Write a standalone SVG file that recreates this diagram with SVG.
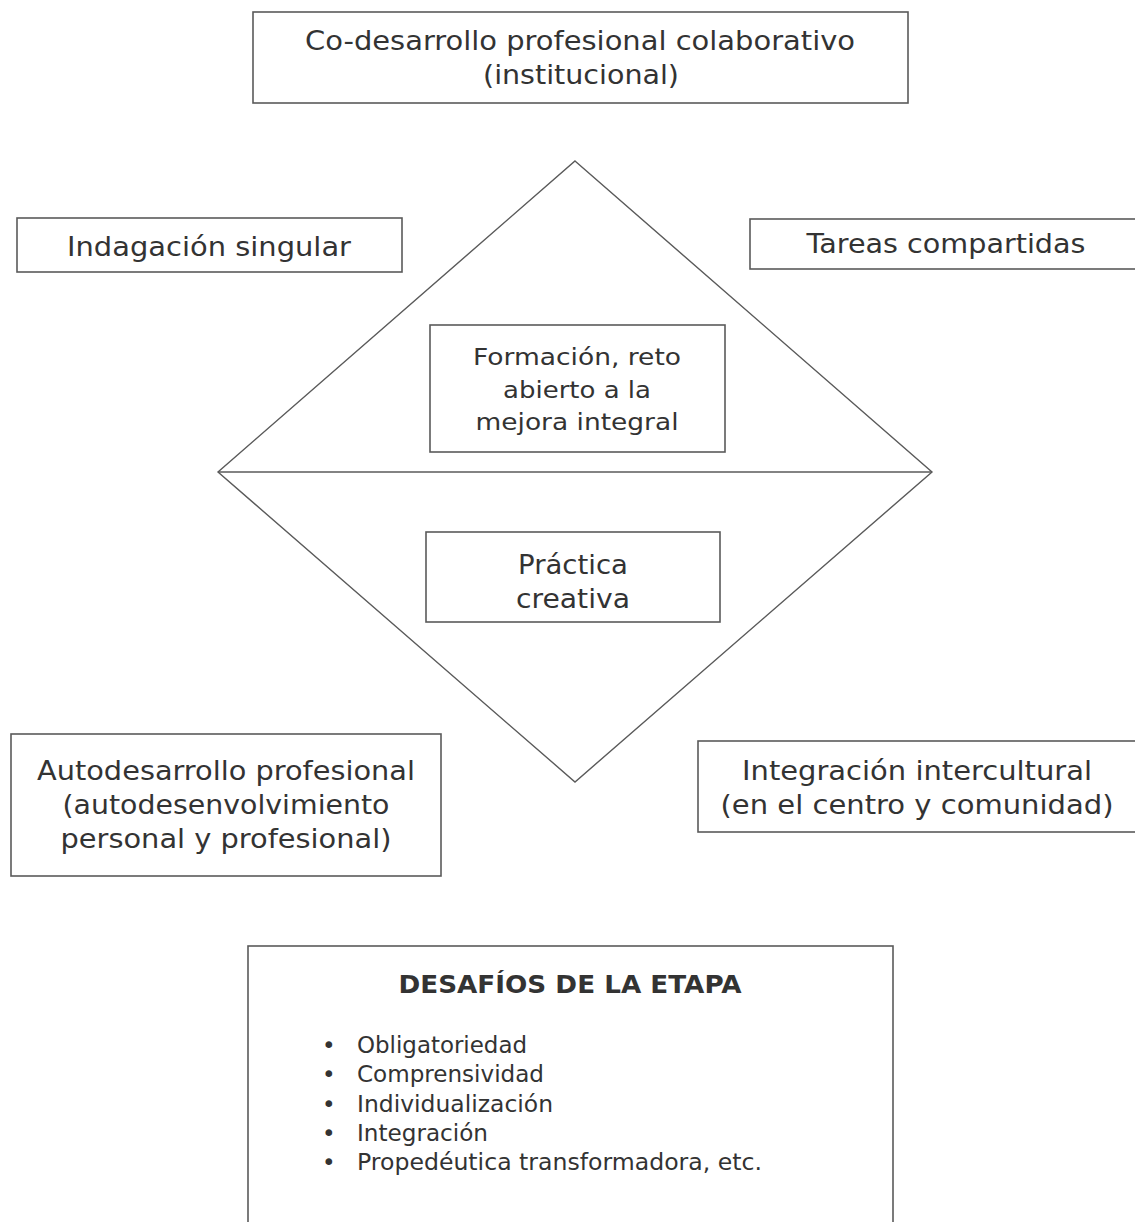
<svg xmlns="http://www.w3.org/2000/svg" width="1135" height="1222" viewBox="0 0 1135 1222">
<style>
.box{fill:#fff;stroke:#5a5a5a;stroke-width:1.6}
.ln{fill:none;stroke:#5a5a5a;stroke-width:1.4}
text{font-family:"DejaVu Sans","Verdana",sans-serif;fill:#333;text-anchor:middle}
.t27{font-size:26px}
.t24{font-size:23px}
.t22{font-size:23px;text-anchor:start}
.b{font-size:24px;font-weight:bold}
</style>
<rect width="1135" height="1222" fill="#fff"/>
<g id="connectors">
<polygon class="ln" points="575,161 932,472 575,782 218,472"/>
<line class="ln" x1="218" y1="472" x2="932" y2="472"/>
</g>
<g id="codesarrollo">
<rect class="box" x="253" y="12" width="655" height="91"/>
<text class="t27" x="580" y="50" textLength="550" lengthAdjust="spacingAndGlyphs">Co-desarrollo profesional colaborativo</text>
<text class="t27" x="581" y="84" textLength="196" lengthAdjust="spacingAndGlyphs">(institucional)</text>
</g>
<g id="indagacion">
<rect class="box" x="17" y="218" width="385" height="54"/>
<text class="t27" x="209" y="256" textLength="284" lengthAdjust="spacingAndGlyphs">Indagación singular</text>
</g>
<g id="tareas">
<rect class="box" x="750" y="219" width="390" height="50"/>
<text class="t27" x="946" y="253" textLength="279" lengthAdjust="spacingAndGlyphs">Tareas compartidas</text>
</g>
<g id="formacion">
<rect class="box" x="430" y="325" width="295" height="127"/>
<text class="t24" x="577" y="365" textLength="208" lengthAdjust="spacingAndGlyphs">Formación, reto</text>
<text class="t24" x="577" y="398" textLength="148" lengthAdjust="spacingAndGlyphs">abierto a la</text>
<text class="t24" x="577" y="430" textLength="203" lengthAdjust="spacingAndGlyphs">mejora integral</text>
</g>
<g id="practica">
<rect class="box" x="426" y="532" width="294" height="90"/>
<text class="t27" x="573" y="574" textLength="110" lengthAdjust="spacingAndGlyphs">Práctica</text>
<text class="t27" x="573" y="608" textLength="114" lengthAdjust="spacingAndGlyphs">creativa</text>
</g>
<g id="autodesarrollo">
<rect class="box" x="11" y="734" width="430" height="142"/>
<text class="t27" x="226" y="780" textLength="378" lengthAdjust="spacingAndGlyphs">Autodesarrollo profesional</text>
<text class="t27" x="226" y="814" textLength="327" lengthAdjust="spacingAndGlyphs">(autodesenvolvimiento</text>
<text class="t27" x="226" y="848" textLength="331" lengthAdjust="spacingAndGlyphs">personal y profesional)</text>
</g>
<g id="integracion">
<rect class="box" x="698" y="741" width="442" height="91"/>
<text class="t27" x="917" y="780" textLength="350" lengthAdjust="spacingAndGlyphs">Integración intercultural</text>
<text class="t27" x="917" y="814" textLength="393" lengthAdjust="spacingAndGlyphs">(en el centro y comunidad)</text>
</g>
<g id="desafios">
<rect class="box" x="248" y="946" width="645" height="290"/>
<text class="b" x="570" y="993" textLength="343" lengthAdjust="spacingAndGlyphs">DESAFÍOS DE LA ETAPA</text>
<text class="t22" x="322" y="1053">•</text>
<text class="t22" x="357" y="1053" textLength="170" lengthAdjust="spacingAndGlyphs">Obligatoriedad</text>
<text class="t22" x="322" y="1082">•</text>
<text class="t22" x="357" y="1082" textLength="187" lengthAdjust="spacingAndGlyphs">Comprensividad</text>
<text class="t22" x="322" y="1112">•</text>
<text class="t22" x="357" y="1112" textLength="196" lengthAdjust="spacingAndGlyphs">Individualización</text>
<text class="t22" x="322" y="1141">•</text>
<text class="t22" x="357" y="1141" textLength="131" lengthAdjust="spacingAndGlyphs">Integración</text>
<text class="t22" x="322" y="1170">•</text>
<text class="t22" x="357" y="1170" textLength="405" lengthAdjust="spacingAndGlyphs">Propedéutica transformadora, etc.</text>
</g>
</svg>
